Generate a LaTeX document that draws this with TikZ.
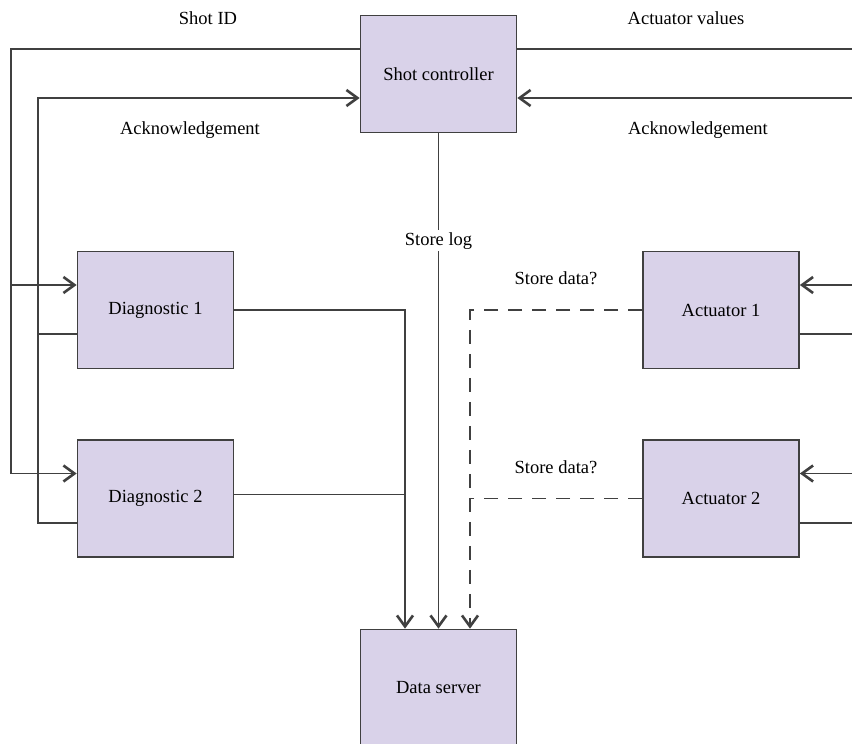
\documentclass[tikz,border=0pt]{standalone}
\usepackage{fontspec}
\setmainfont{Liberation Serif}
\usetikzlibrary{arrows.meta,positioning}

\definecolor{boxfill}{HTML}{D9D2E9}
\definecolor{linecol}{HTML}{404040}

\tikzset{
    block/.style={draw=linecol, fill=boxfill, line width=1.7pt,
        minimum width=156pt, minimum height=117pt, inner sep=0pt,
        font=\fontsize{18.5}{22}\selectfont},
    wire/.style={draw=linecol, line width=1.8pt},
    tip/.style={-{Straight Barb[length=11pt,width=16pt,line width=2.6pt]}},
    lbl/.style={font=\fontsize{18.5}{22}\selectfont, inner sep=2pt},
    datadash/.style={dash pattern=on 14pt off 10pt},
}

\begin{document}
\begin{tikzpicture}[x=1pt,y=-1pt]
            \clip (0,0) rectangle (852,744);
            \fill[white] (0,0) rectangle (852,744);

            %Cajas
            \node[block] (ctrl) at (438.5,74) {Shot controller};
            \node[block] (diag1) at (155.5,310) {Diagnostic 1};
            \node[block] (diag2) at (155.5,498.5) {Diagnostic 2};
            \node[block] (act1) at (721,310) {Actuator 1};
            \node[block] (act2) at (721,498.5) {Actuator 2};
            \node[block] (server) at (438.5,688) {Data server};

            %Puntos de conexion
            \coordinate (shotL) at (11,49);
            \coordinate (ackL) at (38,98);
            \coordinate (edgeR) at (852,0);
            \coordinate (cOut) at ([yshift=25pt]ctrl.west);
            \coordinate (cAck) at ([yshift=-24pt]ctrl.west);
            \coordinate (cOutR) at ([yshift=25pt]ctrl.east);
            \coordinate (cAckR) at ([yshift=-24pt]ctrl.east);
            \coordinate (d1in) at ([yshift=25pt]diag1.west);
            \coordinate (d2in) at ([yshift=25pt]diag2.west);
            \coordinate (d1ack) at ([yshift=-24pt]diag1.west);
            \coordinate (d2ack) at ([yshift=-24.5pt]diag2.west);
            \coordinate (d2out) at ([yshift=4pt]diag2.east);
            \coordinate (a1in) at ([yshift=25pt]act1.east);
            \coordinate (a2in) at ([yshift=25pt]act2.east);
            \coordinate (a1out) at ([yshift=-24pt]act1.east);
            \coordinate (a2out) at ([yshift=-24.5pt]act2.east);
            \coordinate (sDiag) at ([xshift=-33.5pt]server.north);
            \coordinate (sAct) at ([xshift=31.5pt]server.north);

            %Lineas izq
            \draw[wire, tip] (cOut) -- (shotL) |- (d2in);
            \draw[wire, tip] (shotL |- d1in) -- (d1in);
            \draw[wire, tip] (d2ack) -| (ackL) -- (cAck);
            \draw[wire] (d1ack) -- (ackL |- d1ack);

            %Lineas der
            \draw[wire] (cOutR) -- (edgeR |- cOutR);
            \draw[wire, tip] (edgeR |- cAckR) -- (cAckR);
            \draw[wire, tip] (edgeR |- a1in) -- (a1in);
            \draw[wire, tip] (edgeR |- a2in) -- (a2in);
            \draw[wire] (a1out) -- (edgeR |- a1out);
            \draw[wire] (a2out) -- (edgeR |- a2out);

            %Hacia el servidor
            \draw[wire, tip] (diag1.east) -| (sDiag);
            \draw[wire] (d2out) -- (sDiag |- d2out);
            \draw[wire, tip] (ctrl.south) -- (server.north)
                node[pos=0.217, lbl, fill=white] (storelog) {Store log};
            \draw[wire, datadash, tip] (act1.west) -| (sAct);
            \draw[wire, datadash] (act2.west) -- (sAct |- act2.west);

            %Etiquetas
            \node[lbl] (shotid) at (208,18) {Shot ID};
            \node[lbl] (actval) at (686,18) {Actuator values};
            \node[lbl] (ackleft) at (190,130) {Acknowledgement};
            \node[lbl] (ackright) at (698,130) {Acknowledgement};
            \node[lbl] (store1) at (556,278) {Store data?};
            \node[lbl] (store2) at (556,467) {Store data?};
\end{tikzpicture}
\end{document}
